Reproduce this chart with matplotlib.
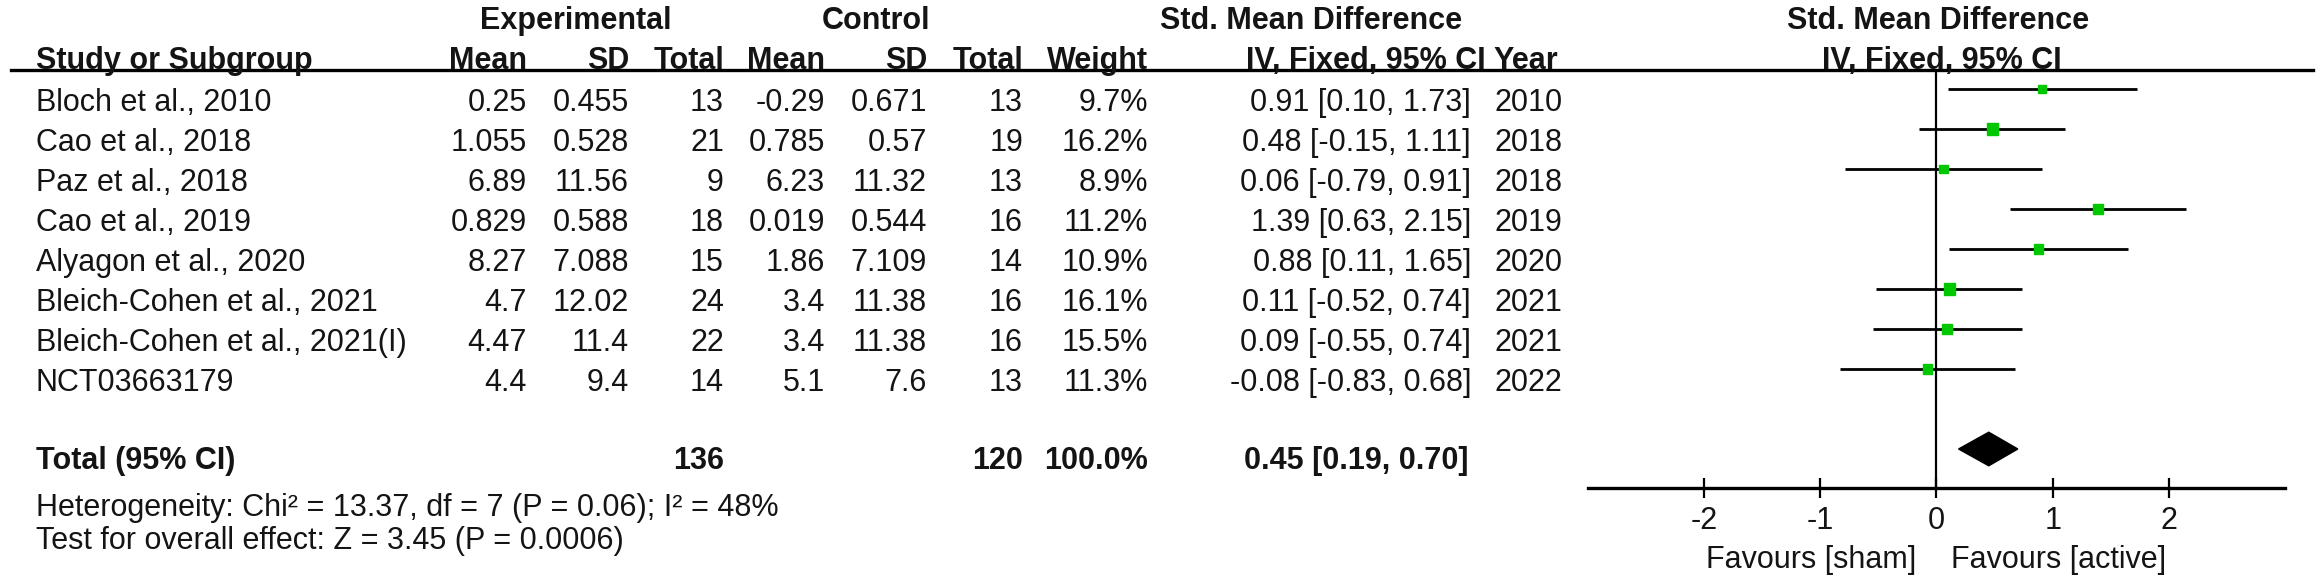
import matplotlib as mpl
mpl.use('Agg')
import matplotlib.pyplot as plt
from matplotlib.patches import Rectangle, Polygon
from matplotlib.lines import Line2D

# ---- data ----
studies = ["Bloch et al., 2010", "Cao et al., 2018", "Paz et al., 2018", "Cao et al., 2019",
           "Alyagon et al., 2020", "Bleich-Cohen et al., 2021", "Bleich-Cohen et al., 2021(I)",
           "NCT03663179"]
exp_mean = ["0.25", "1.055", "6.89", "0.829", "8.27", "4.7", "4.47", "4.4"]
exp_sd = ["0.455", "0.528", "11.56", "0.588", "7.088", "12.02", "11.4", "9.4"]
exp_n = [13, 21, 9, 18, 15, 24, 22, 14]
ctl_mean = ["-0.29", "0.785", "6.23", "0.019", "1.86", "3.4", "3.4", "5.1"]
ctl_sd = ["0.671", "0.57", "11.32", "0.544", "7.109", "11.38", "11.38", "7.6"]
ctl_n = [13, 19, 13, 16, 14, 16, 16, 13]
weight = [9.7, 16.2, 8.9, 11.2, 10.9, 16.1, 15.5, 11.3]
smd = [0.91, 0.48, 0.06, 1.39, 0.88, 0.11, 0.09, -0.08]
lo = [0.10, -0.15, -0.79, 0.63, 0.11, -0.52, -0.55, -0.83]
hi = [1.73, 1.11, 0.91, 2.15, 1.65, 0.74, 0.74, 0.68]
years = [2010, 2018, 2018, 2019, 2020, 2021, 2021, 2022]

total_smd, total_lo, total_hi = 0.45, 0.19, 0.70
total_exp, total_ctl = 136, 120
total_weight = "100.0%"
heterogeneity = "Heterogeneity: Chi² = 13.37, df = 7 (P = 0.06); I² = 48%"
overall = "Test for overall effect: Z = 3.45 (P = 0.0006)"
ticks = [-2, -1, 0, 1, 2]

plt.rcParams['font.family'] = ['Liberation Sans', 'DejaVu Sans']

W, H = 2320, 584
FS = 22
BASE = 11  # half cap height, centre -> baseline
TXT = '#141414'
fig = plt.figure(figsize=(W / 100, H / 100), dpi=100)

# text layer in pixel coordinates
tx = fig.add_axes([0, 0, 1, 1])
tx.set_xlim(0, W)
tx.set_ylim(H, 0)
tx.axis('off')


def put(x, y, s, ha='right', bold=False):
    tx.text(x, y + BASE, s, ha=ha, va='baseline', fontsize=FS,
            fontweight='bold' if bold else 'normal', color=TXT)


# headers
put(576, 18, "Experimental", ha='center', bold=True)
put(876, 18, "Control", ha='center', bold=True)
put(1311, 18, "Std. Mean Difference", ha='center', bold=True)
put(1938, 18, "Std. Mean Difference", ha='center', bold=True)
put(36, 58, "Study or Subgroup", ha='left', bold=True)
for xr, lab in [(527, "Mean"), (629, "SD"), (724, "Total"), (825, "Mean"), (927, "SD"),
                (1023, "Total"), (1148, "Weight"), (1486, "IV, Fixed, 95% CI")]:
    put(xr, 58, lab, bold=True)
put(1493, 58, "Year", ha='left', bold=True)
put(1942, 58, "IV, Fixed, 95% CI", ha='center', bold=True)
tx.add_line(Line2D([11, 2313], [69.5, 69.5], color='black', lw=2.4))

# study rows
for i in range(len(studies)):
    y = 100 + 40 * i
    put(36, y, studies[i], ha='left')
    put(527, y, exp_mean[i])
    put(629, y, exp_sd[i])
    put(724, y, str(exp_n[i]))
    put(825, y, ctl_mean[i])
    put(927, y, ctl_sd[i])
    put(1023, y, str(ctl_n[i]))
    put(1148, y, "%.1f%%" % weight[i])
    put(1471, y, "%.2f [%.2f, %.2f]" % (smd[i], lo[i], hi[i]))
    put(1495, y, str(years[i]), ha='left')

# total row
yt = 458
put(36, yt, "Total (95% CI)", ha='left', bold=True)
put(724, yt, str(total_exp), bold=True)
put(1023, yt, str(total_ctl), bold=True)
put(1148, yt, total_weight, bold=True)
put(1468, yt, "%.2f [%.2f, %.2f]" % (total_smd, total_lo, total_hi), bold=True)
put(36, 505, heterogeneity, ha='left')
put(36, 538, overall, ha='left')

# forest panel: x in SMD units, y in row index
x0, x1 = 1588, 2285
ytop, ybot = 70, 488
ax = fig.add_axes([x0 / W, (H - ybot) / H, (x1 - x0) / W, (ybot - ytop) / H])
ax.set_xlim(-3, 3)
row0, step = 89, 40
ax.set_ylim((ybot - row0) / step, (ytop - row0) / step)
ax.patch.set_alpha(0)
for side in ['top', 'left', 'right']:
    ax.spines[side].set_visible(False)
ax.spines['bottom'].set_linewidth(2.4)
ax.set_yticks([])
ax.set_xticks(ticks)
ax.set_xticklabels([str(t) for t in ticks])
ax.tick_params(axis='x', direction='inout', length=14, width=1.6, labelsize=FS, pad=6,
               labelcolor=TXT)
ax.axvline(0, color='black', lw=1.6)

px_x = 6.0 / (x1 - x0)  # data units per pixel, x
for i in range(len(studies)):
    ax.plot([lo[i], hi[i]], [i, i], color='black', lw=2.0, solid_capstyle='butt')
    side = 2.75 * weight[i] ** 0.5
    ax.add_patch(Rectangle((smd[i] - side * px_x / 2, i - side / step / 2),
                           side * px_x, side / step, color='#00c800', zorder=3))

dy = 0.42
ax.add_patch(Polygon([(total_lo, 9), (total_smd, 9 - dy), (total_hi, 9), (total_smd, 9 + dy)],
                     closed=True, color='black', zorder=3))

tx.text(1916, 557 + BASE, "Favours [sham]", ha='right', va='baseline', fontsize=FS, color=TXT)
tx.text(1951, 557 + BASE, "Favours [active]", ha='left', va='baseline', fontsize=FS, color=TXT)

fig.savefig('out.png', dpi=100)
